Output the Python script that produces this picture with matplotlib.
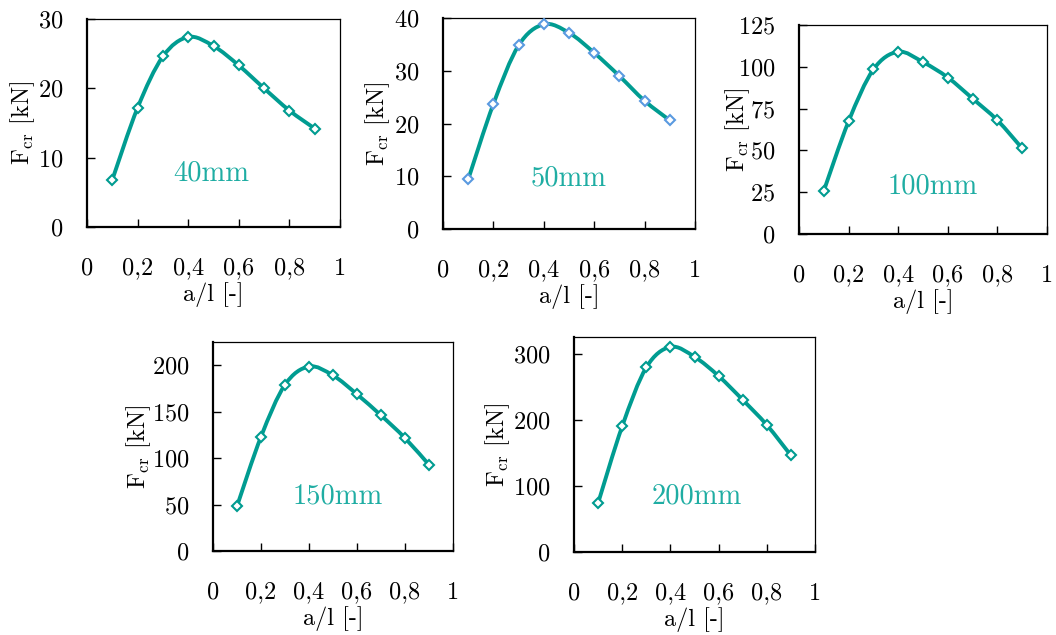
import matplotlib
matplotlib.use('Agg')
import matplotlib.pyplot as plt
import numpy as np
from matplotlib.path import Path
from matplotlib.patches import PathPatch

plt.rcParams['font.family'] = 'cmr10'
plt.rcParams['mathtext.fontset'] = 'cm'
plt.rcParams['axes.formatter.use_mathtext'] = True

a_l = [0.1, 0.2, 0.3, 0.4, 0.5, 0.6, 0.7, 0.8, 0.9]
f_40 = [6.8, 17.2, 24.6, 27.4, 26.1, 23.3, 20.0, 16.8, 14.2]
f_50 = [9.4, 23.7, 34.8, 38.8, 37.2, 33.4, 29.0, 24.3, 20.6]
f_100 = [25.8, 67.4, 98.4, 109.0, 102.8, 93.6, 81.0, 68.0, 51.2]
f_150 = [48.2, 123.0, 179.0, 198.6, 189.0, 168.7, 146.0, 121.6, 92.8]
f_200 = [74.0, 190.0, 279.0, 310.0, 295.0, 266.0, 230.0, 192.0, 146.0]

labels = ['40mm', '50mm', '100mm', '150mm', '200mm']
series = [f_40, f_50, f_100, f_150, f_200]
ymax = [30, 40, 125, 225, 325]
ystep = [10, 10, 25, 50, 100]
xticks = [0, 0.2, 0.4, 0.6, 0.8, 1]
xticklabels = ['0', '0,2', '0,4', '0,6', '0,8', '1']

line_col = '#009c91'
text_col = '#1fada3'
marker_edge = [line_col, '#5a9ae0', line_col, line_col, line_col]

# axes boxes in pixels: left, top, right, bottom
W, H = 1056, 635
boxes = [(87, 19, 340, 227), (443, 18, 695, 229), (799, 25, 1047, 234),
         (213, 342, 453, 551), (574, 337, 815, 552)]
label_pos = [(0.49, 0.26), (0.50, 0.24), (0.54, 0.23), (0.52, 0.26), (0.51, 0.26)]
ylab_off = [-50, -51, -47, -60, -62]   # right edge of y label, px from spine

fs = 17.5


def smooth_path(x, y):
    # Excel-like smoothed line as cubic bezier segments
    p = np.column_stack([x, y])
    n = len(p)
    verts = [p[0]]
    codes = [Path.MOVETO]
    for i in range(n - 1):
        p0 = p[i - 1] if i > 0 else p[i]
        p3 = p[i + 2] if i + 2 < n else p[i + 1]
        c1 = p[i] + (p[i + 1] - p0) / 6
        c2 = p[i + 1] - (p3 - p[i]) / 6
        verts += [c1, c2, p[i + 1]]
        codes += [Path.CURVE4] * 3
    return Path(verts, codes)


fig = plt.figure(figsize=(W / 100, H / 100), dpi=100)
for k in range(5):
    l, t, r, b = boxes[k]
    ax = fig.add_axes([l / W, 1 - b / H, (r - l) / W, (b - t) / H])
    ax.add_patch(PathPatch(smooth_path(a_l, series[k]), fill=False,
                           edgecolor=line_col, lw=2.8, capstyle='round', zorder=2))
    ax.plot(a_l, series[k], ls='none', marker='D', ms=5, mfc='white',
            mec=marker_edge[k], mew=1.5, zorder=3)
    ax.set_xlim(0, 1)
    ax.set_ylim(0, ymax[k])
    ax.set_xticks(xticks)
    ax.set_xticklabels(xticklabels)
    ax.set_yticks(np.arange(0, ymax[k] + 1, ystep[k]))
    ax.tick_params(direction='in', length=6, width=1, labelsize=fs)
    ax.tick_params(axis='x', pad=22)
    ax.tick_params(axis='y', pad=17)
    for s in ['top', 'right']:
        ax.spines[s].set_linewidth(0.9)
    for s in ['left', 'bottom']:
        ax.spines[s].set_linewidth(1.6)
    ax.set_xlabel('a/l [-]', fontsize=fs, labelpad=2)
    ax.set_ylabel(r'$\mathrm{F}_{\mathrm{cr}}$ [kN]', fontsize=fs)
    ax.yaxis.set_label_coords(ylab_off[k] / (r - l), 0.5)
    ax.text(label_pos[k][0], label_pos[k][1], labels[k], transform=ax.transAxes,
            ha='center', va='center', color=text_col, fontsize=20.5)

fig.savefig('out.png', dpi=100)
